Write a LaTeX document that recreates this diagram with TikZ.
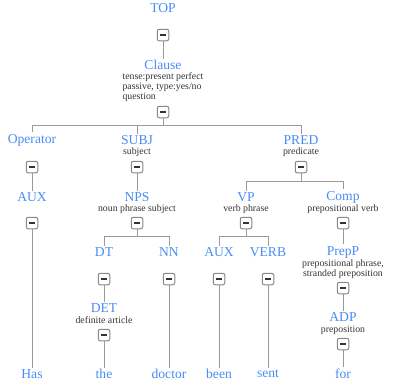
\documentclass[tikz,border=0pt]{standalone}
\usepackage{fontspec}
\setmainfont{Liberation Serif}
\definecolor{lblue}{HTML}{4A8CF5}
\definecolor{lgray}{HTML}{9A9A9A}
\definecolor{bgray}{HTML}{888888}
\definecolor{dtext}{HTML}{333333}
\begin{document}
\begin{tikzpicture}[x=1pt,y=-1pt,
  lab/.style={text=lblue,font=\fontsize{13.6}{16}\selectfont,inner sep=1.5pt,anchor=center},
  desc/.style={text=dtext,font=\fontsize{9.8}{10}\selectfont,inner sep=0pt,align=center},
  tbox/.style={draw=bgray,fill=white,line width=1pt,rounded corners=2pt,minimum size=11.5pt,inner sep=0pt},
  conn/.style={draw=lgray,line width=0.9pt}]
\useasboundingbox (0,0) rectangle (400,384);
\newcommand{\mn}{\textcolor{dtext}{\rule{6pt}{2.4pt}}}
% labels
\node[lab] (top) at (163,8) {TOP};
\node[lab] (clause) at (163,65) {Clause};
\node[desc,align=left] (dclause) at (163,87) {tense:present perfect\\passive, type:yes/no\\question};

\node[lab] (oper) at (32,140) {Operator};
\node[lab] (subj) at (137,140) {SUBJ};
\node[desc] (dsubj) at (137,152.5) {subject};
\node[lab] (pred) at (301,140) {PRED};
\node[desc] (dpred) at (301,152.5) {predicate};

\node[lab] (aux1) at (32,197) {AUX};
\node[lab] (nps) at (137,197) {NPS};
\node[desc] (dnps) at (137,209) {noun phrase subject};
\node[lab] (vp) at (246,197) {VP};
\node[desc] (dvp) at (246,209) {verb phrase};
\node[lab] (comp) at (343,197) {Comp};
\node[desc] (dcomp) at (343,209) {prepositional verb};

\node[lab] (dt) at (104,252) {DT};
\node[lab] (nn) at (169,252) {NN};
\node[lab] (aux2) at (219,252) {AUX};
\node[lab] (verb) at (268,252) {VERB};
\node[lab] (prepp) at (343,252) {PrepP};
\node[desc] (dprepp) at (343,269.5) {prepositional phrase,\\stranded preposition};

\node[lab] (det) at (104,308) {DET};
\node[desc] (ddet) at (104,320.5) {definite article};
\node[lab] (adp) at (343,317) {ADP};
\node[desc] (dadp) at (343,330) {preposition};

\node[lab] (has) at (32,374) {Has};
\node[lab] (the) at (104,374) {the};
\node[lab] (doctor) at (169,374) {doctor};
\node[lab] (been) at (219,374) {been};
\node[lab] (sent) at (268,374) {sent};
\node[lab] (for) at (343,374) {for};

% toggle box positions
\coordinate (p0) at (163,35);
\coordinate (p1) at (163,112);
\coordinate (poper) at (32,167);
\coordinate (psubj) at (137,167);
\coordinate (ppred) at (301,167);
\coordinate (paux1) at (32,223);
\coordinate (pnps) at (137,223);
\coordinate (pvp) at (246,223);
\coordinate (pcomp) at (343,223);
\coordinate (pdt) at (104,279);
\coordinate (pnn) at (169,279);
\coordinate (paux2) at (219,279);
\coordinate (pverb) at (268,279);
\coordinate (pprepp) at (343,288);
\coordinate (pdet) at (104,335);
\coordinate (padp) at (343,344);

% connectors (from box centres; boxes drawn on top)
\path[conn] (p0) -- (clause.north);
\path[conn] (p1) -- (p1 |- 0,125) -| (oper.north);
\path[conn] (p1 |- 0,125) -| (subj.north);
\path[conn] (p1 |- 0,125) -| (pred.north);
\path[conn] (poper) -- (aux1.north);
\path[conn] (psubj) -- (nps.north);
\path[conn] (ppred) -- (ppred |- 0,181) -| (vp.north);
\path[conn] (ppred |- 0,181) -| (comp.north);
\path[conn] (paux1) -- (has.north);
\path[conn] (pnps) -- (pnps |- 0,236) -| (dt.north);
\path[conn] (pnps |- 0,236) -| (nn.north);
\path[conn] (pvp) -- (pvp |- 0,236) -| (aux2.north);
\path[conn] (pvp |- 0,236) -| (verb.north);
\path[conn] (pcomp) -- (prepp.north);
\path[conn] (pdt) -- (det.north);
\path[conn] (pdet) -- (the.north);
\path[conn] (pnn) -- (doctor.north);
\path[conn] (paux2) -- (been.north);
\path[conn] (pverb) -- (sent.north);
\path[conn] (pprepp) -- (adp.north);
\path[conn] (padp) -- (for.north);

% toggle boxes
\node[tbox] (b0) at (p0) {\mn};
\node[tbox] (b1) at (p1) {\mn};
\node[tbox] (boper) at (poper) {\mn};
\node[tbox] (bsubj) at (psubj) {\mn};
\node[tbox] (bpred) at (ppred) {\mn};
\node[tbox] (baux1) at (paux1) {\mn};
\node[tbox] (bnps) at (pnps) {\mn};
\node[tbox] (bvp) at (pvp) {\mn};
\node[tbox] (bcomp) at (pcomp) {\mn};
\node[tbox] (bdt) at (pdt) {\mn};
\node[tbox] (bnn) at (pnn) {\mn};
\node[tbox] (baux2) at (paux2) {\mn};
\node[tbox] (bverb) at (pverb) {\mn};
\node[tbox] (bprepp) at (pprepp) {\mn};
\node[tbox] (bdet) at (pdet) {\mn};
\node[tbox] (badp) at (padp) {\mn};
\end{tikzpicture}
\end{document}
